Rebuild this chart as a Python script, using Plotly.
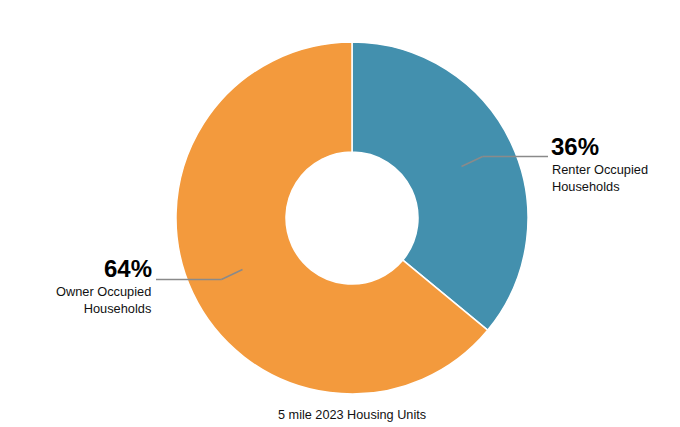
import math
import plotly.graph_objects as go

labels = ["Renter Occupied<br>Households", "Owner Occupied<br>Households"]
values = [36, 64]
colors = ["#4390ae", "#f39a3d"]
title_text = "5 mile 2023 Housing Units"

# page body has an 8px margin; work in page pixels and offset
OFF = 8
W, H = 680 - OFF, 427 - OFF
L, R, T, B = 24 - OFF, 0, 42 - OFF, 33
pw, ph = W - L - R, H - T - B
cx, cy = L + pw / 2, T + ph / 2
r_out = min(pw, ph) / 2
hole = 0.375
r_mid = r_out * (1 + hole) / 2
r_ext = r_out * 0.82
FONT = "Liberation Sans, Arial, Helvetica"


def to_paper(x, y):
    return (x - L) / pw, 1 - (y - T) / ph


fig = go.Figure(go.Pie(
    labels=labels, values=values, hole=hole, sort=False,
    direction="clockwise", rotation=0,
    marker=dict(colors=colors, line=dict(color="white", width=1.5)),
    textinfo="none", hoverinfo="label+percent", showlegend=False,
))

shapes = []
annotations = []
total = sum(values)
cum = 0
for lab, v in zip(labels, values):
    mid = (cum + v / 2) / total * 2 * math.pi
    cum += v
    sx, sy = math.sin(mid), -math.cos(mid)
    x0, y0 = cx + sx * r_mid, cy + sy * r_mid
    x1, y1 = cx + sx * r_ext, cy + sy * r_ext
    right = sx > 0
    x2 = cx + (196 if right else -196)
    for (a, b), (c, d) in [((x0, y0), (x1, y1)), ((x1, y1), (x2, y1))]:
        p0 = to_paper(a, b)
        p1 = to_paper(c, d)
        shapes.append(dict(type="line", xref="paper", yref="paper",
                           x0=p0[0], y0=p0[1], x1=p1[0], y1=p1[1],
                           line=dict(color="#8a8a8a", width=1.5)))
    tx = x2 + (2 if right else -3)
    anchor = "left" if right else "right"
    px, py = to_paper(tx, y1 + 4)
    annotations.append(dict(xref="paper", yref="paper", x=px, y=py,
                            xanchor=anchor, yanchor="bottom", showarrow=False,
                            text="<b>%d%%</b>" % round(v / total * 100),
                            font=dict(size=24, color="#000", family=FONT),
                            borderpad=0))
    px, py = to_paper(tx, y1 + 3)
    annotations.append(dict(xref="paper", yref="paper", x=px, y=py,
                            xanchor=anchor, yanchor="top", showarrow=False,
                            text=lab, align=anchor,
                            font=dict(size=12.8, color="#111", family=FONT)))

px, py = to_paper(cx, 415 - OFF)
annotations.append(dict(xref="paper", yref="paper", x=px, y=py,
                        xanchor="center", yanchor="middle", showarrow=False,
                        text=title_text,
                        font=dict(size=12.7, color="#111", family=FONT)))

fig.update_layout(
    width=W, height=H, margin=dict(l=L, r=R, t=T, b=B),
    paper_bgcolor="white", plot_bgcolor="white",
    shapes=shapes, annotations=annotations,
)
fig.write_html("out.html")
